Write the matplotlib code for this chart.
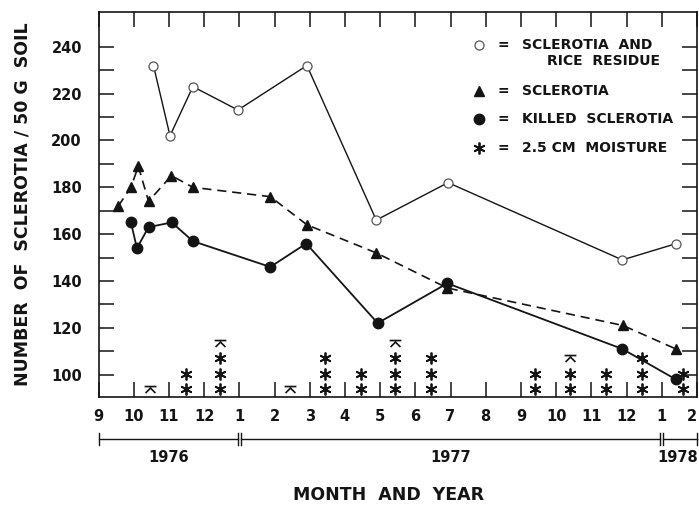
import numpy as np
import matplotlib
matplotlib.use('Agg')
import matplotlib.pyplot as plt
from matplotlib.path import Path

# months counted from 1 Sept 1976 (0) to 1 Feb 1978 (17)
month_labels = ['9', '10', '11', '12', '1', '2', '3', '4', '5', '6', '7', '8',
                '9', '10', '11', '12', '1', '2']

# sclerotia and rice residue (open circles)
res_month = [1.56, 2.03, 2.68, 3.96, 5.92, 7.89, 9.93, 14.88, 16.42]
res_count = [232, 202, 223, 213, 232, 166, 182, 149, 156]

# sclerotia (triangles)
scl_month = [0.56, 0.92, 1.13, 1.42, 2.07, 2.68, 4.88, 5.92, 7.89, 9.91, 14.90, 16.40]
scl_count = [172, 180, 189, 174, 185, 180, 176, 164, 152, 137, 121, 111]

# killed sclerotia (filled circles)
kil_month = [0.92, 1.09, 1.42, 2.08, 2.68, 4.88, 5.90, 7.93, 9.91, 14.88, 16.40]
kil_count = [165, 154, 163, 165, 157, 146, 156, 122, 139, 111, 98]

# moisture: number of 2.5 cm units per month, plus a partial unit
moist_month = [1.46, 2.48, 3.44, 5.43, 6.44, 7.45, 8.43, 9.44, 12.41, 13.40, 14.41, 15.43, 16.61]
moist_full = [0, 2, 3, 0, 3, 2, 3, 3, 2, 2, 2, 3, 2]
moist_part = [1, 0, 1, 1, 0, 0, 1, 0, 0, 1, 0, 0, 0]

years = ['1976', '1977', '1978']
year_bounds = [0, 4, 16, 17]

ink = '#141414'
font = dict(family='DejaVu Sans', weight='bold', color=ink)

asterisk = (6, 2, 0)
part_verts = [(-0.5, 0.25), (0.5, 0.25), (-0.42, -0.3), (0.0, 0.12), (0.42, -0.3)]
part_codes = [Path.MOVETO, Path.LINETO, Path.MOVETO, Path.LINETO, Path.LINETO]
partial = Path(part_verts, part_codes)

fig = plt.figure(figsize=(6.99, 5.05), dpi=100)
ax = fig.add_axes([0.141, 0.214, 0.856, 0.762])

ax.plot(res_month, res_count, '-', color=ink, lw=1.0, marker='o', ms=6.5,
        mfc='white', mec='#555555', mew=0.9, zorder=3)
ax.plot(scl_month, scl_count, color=ink, lw=1.2, dashes=(5.5, 3.5), marker='^',
        ms=7, mfc=ink, mec=ink, zorder=4)
ax.plot(kil_month, kil_count, '-', color=ink, lw=1.3, marker='o', ms=7.5,
        mfc=ink, mec=ink, zorder=5)

# moisture stacks
row0, row_step = 93.8, 6.57
for m, nf, npart in zip(moist_month, moist_full, moist_part):
    ys = [row0 + i * row_step for i in range(nf)]
    if ys:
        ax.plot([m] * nf, ys, ls='none', marker=asterisk, ms=8.5, mew=1.3,
                color=ink, zorder=6)
    if npart:
        ax.plot([m], [row0 + nf * row_step], ls='none', marker=partial, ms=8.5,
                mew=1.2, color=ink, mfc='none', zorder=6)

ax.set_xlim(0, 17)
ax.set_ylim(90.5, 254.8)
ax.set_xticks(range(18))
ax.set_xticklabels(month_labels, fontsize=10.5, **font)
ax.get_xticklabels()[-1].set_ha('right')
ax.set_yticks(range(100, 241, 20))
ax.set_yticks(range(110, 240, 20), minor=True)
ax.set_yticklabels([str(v) for v in range(100, 241, 20)], fontsize=10.5, **font)
ax.tick_params(axis='both', which='both', direction='in', length=11, width=1.1,
               color=ink, top=True, right=True)
ax.tick_params(axis='x', pad=9)
ax.tick_params(axis='y', pad=12)
for s in ax.spines.values():
    s.set_linewidth(1.2)
    s.set_color(ink)

ax.set_ylabel('NUMBER  OF  SCLEROTIA / 50 G  SOIL', fontsize=12.5, labelpad=14, **font)
ax.set_xlabel('MONTH  AND  YEAR', fontsize=12.5, **font)
ax.xaxis.set_label_coords(0.485, -0.232)

# year brackets under the month labels
tr = ax.get_xaxis_transform()
gap = 0.05
for i, yr in enumerate(years):
    x0 = year_bounds[i] + (gap if i > 0 else 0)
    x1 = year_bounds[i + 1] - (gap if i < len(years) - 1 else 0)
    ax.plot([x0, x1], [-0.109, -0.109], color=ink, lw=1.0, transform=tr, clip_on=False)
    for xb in (x0, x1):
        ax.plot([xb, xb], [-0.094, -0.124], color=ink, lw=1.0, transform=tr, clip_on=False)
    if i == len(years) - 1:
        ax.text(17.04, -0.158, yr, transform=tr, ha='right', va='center', fontsize=10.5, **font)
    else:
        xc = (year_bounds[i] + year_bounds[i + 1]) / 2
        ax.text(xc, -0.158, yr, transform=tr, ha='center', va='center', fontsize=10.5, **font)

# legend drawn by hand to keep the original layout
lx, eqx, tx = 0.6366, 0.676, 0.707
rows = [0.914, 0.795, 0.7213, 0.646]
ax.plot([lx], [rows[0]], transform=ax.transAxes, marker='o', ms=6.5, mfc='white',
        mec='#555555', mew=0.9, ls='none')
ax.plot([lx], [rows[1]], transform=ax.transAxes, marker='^', ms=7, color=ink, ls='none')
ax.plot([lx], [rows[2]], transform=ax.transAxes, marker='o', ms=7.5, color=ink, ls='none')
ax.plot([lx], [rows[3]], transform=ax.transAxes, marker=asterisk, ms=8.5, mew=1.3,
        color=ink, ls='none')
legend_text = ['SCLEROTIA  AND', 'SCLEROTIA', 'KILLED  SCLEROTIA', '2.5 CM  MOISTURE']
for r, t in zip(rows, legend_text):
    ax.text(eqx, r, '=', transform=ax.transAxes, ha='center', va='center', fontsize=10, **font)
    ax.text(tx, r, t, transform=ax.transAxes, ha='left', va='center', fontsize=10, **font)
ax.text(0.749, 0.8735, 'RICE  RESIDUE', transform=ax.transAxes, ha='left', va='center',
        fontsize=10, **font)

fig.savefig('out.png', dpi=100)
